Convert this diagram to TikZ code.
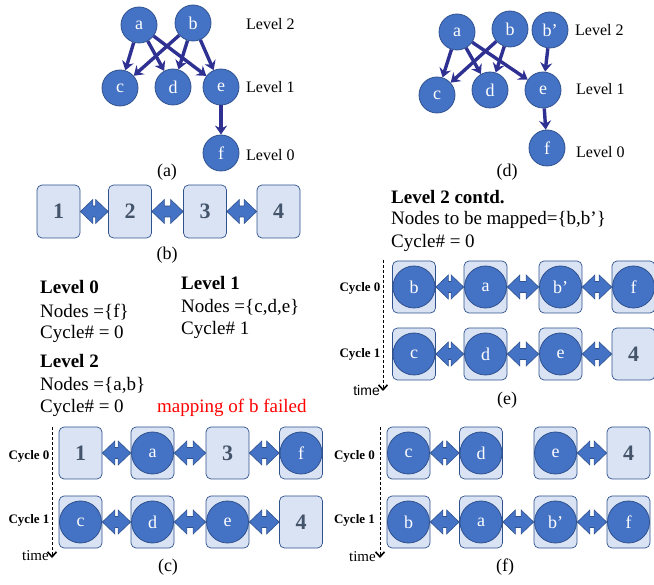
\documentclass[tikz,border=0pt]{standalone}
\usepackage{fontspec}
\setmainfont{Liberation Serif}
\newfontfamily\timesans{Liberation Sans}
\usetikzlibrary{arrows.meta,calc}

\definecolor{nodeblue}{RGB}{68,114,196}
\definecolor{nodeedge}{RGB}{47,82,143}
\definecolor{cellfill}{RGB}{218,227,243}
\definecolor{edgeblue}{RGB}{46,49,146}
\definecolor{numgray}{RGB}{68,84,106}

\newcommand{\fsz}[1]{\fontsize{#1}{#1}\selectfont}

\tikzset{
  vtx/.style={circle, fill=nodeblue, draw=nodeedge, line width=0.8pt, minimum size=36pt, inner sep=0pt, text=white, font=\fsz{18}},
  bigvtx/.style={vtx, minimum size=42pt},
  cell/.style={rectangle, rounded corners=5pt, fill=cellfill, draw=nodeedge, line width=0.7pt, minimum width=43pt, minimum height=52pt, inner sep=0pt, text=numgray, font=\fsz{22}\bfseries},
  dep/.style={draw=edgeblue, line width=3.4pt, -{Stealth[length=9pt,width=12pt,inset=3pt]}},
  lvl/.style={anchor=west, inner sep=0pt, font=\fsz{16}},
  txt/.style={anchor=west, inner sep=0pt, font=\fsz{19}},
  subcap/.style={inner sep=0pt, font=\fsz{18}},
  cyc/.style={inner sep=0pt, font=\fsz{13}\bfseries},
  timeline/.style={densely dashed, line width=0.6pt, -{Straight Barb[length=5pt,width=9pt,line width=1.6pt]}},
  link/.style={fill=nodeblue, draw=nodeedge, line width=0.6pt}
}

% fat double arrow between two cells
\newcommand{\bilink}[2]{%
  \filldraw[link] let \p1=(#1.east), \p2=(#2.west) in
    (\x1,\y1) -- ({\x1+12.5pt},{\y1+12pt}) -- ({\x1+12.5pt},{\y1+5.5pt}) -- ({\x2-12.5pt},{\y1+5.5pt})
    -- ({\x2-12.5pt},{\y1+12pt}) -- (\x2,\y1) -- ({\x2-12.5pt},{\y1-12pt}) -- ({\x2-12.5pt},{\y1-5.5pt})
    -- ({\x1+12.5pt},{\y1-5.5pt}) -- ({\x1+12.5pt},{\y1-12pt}) -- cycle;}

\begin{document}
\begin{tikzpicture}[x=1pt,y=-1pt]
  \useasboundingbox (0,0) rectangle (654,585);

  % (a) dependency graph
  \node[vtx] (a-a) at (139,25) {a};
  \node[vtx] (a-b) at (193,23) {b};
  \node[vtx] (a-c) at (120,88) {c};
  \node[vtx] (a-d) at (173,87) {d};
  \node[vtx] (a-e) at (221,87) {e};
  \node[vtx] (a-f) at (221,153) {f};
  \draw[dep] (a-a) -- (a-c);
  \draw[dep] (a-a) -- (a-d);
  \draw[dep] (a-a) -- (a-e);
  \draw[dep] (a-b) -- (a-c);
  \draw[dep] (a-b) -- (a-d);
  \draw[dep] (a-b) -- (a-e);
  \draw[dep] (a-e) -- (a-f);
  \node[lvl] (a-l2) at (246,24) {Level 2};
  \node[lvl] (a-l1) at (246,87) {Level 1};
  \node[lvl] (a-l0) at (246,155) {Level 0};
  \node[subcap] (cap-a) at (167,172) {(a)};

  % (d) graph with b'
  \node[vtx] (d-a) at (457,32) {a};
  \node[vtx] (d-b) at (510,29) {b};
  \node[vtx] (d-bp) at (550,30) {b’};
  \node[vtx] (d-c) at (437,95) {c};
  \node[vtx] (d-d) at (490,90) {d};
  \node[vtx] (d-e) at (543,90) {e};
  \node[vtx] (d-f) at (547,148) {f};
  \draw[dep] (d-a) -- (d-c);
  \draw[dep] (d-a) -- (d-d);
  \draw[dep] (d-a) -- (d-e);
  \draw[dep] (d-b) -- (d-c);
  \draw[dep] (d-b) -- (d-d);
  \draw[dep] (d-bp) -- (d-e);
  \draw[dep] (d-e) -- (d-f);
  \node[lvl] (d-l2) at (575,30) {Level 2};
  \node[lvl] (d-l1) at (576,89) {Level 1};
  \node[lvl] (d-l0) at (576,152) {Level 0};
  \node[subcap] (cap-d) at (507,172) {(d)};

  % (b) the array
  \node[cell, minimum height=53pt] (b-1) at (58.5,211.5) {1};
  \node[cell, minimum height=53pt] (b-2) at (130,211.5) {2};
  \node[cell, minimum height=53pt] (b-3) at (205,211.5) {3};
  \node[cell, minimum height=53pt] (b-4) at (278.5,211.5) {4};
  \bilink{b-1}{b-2}
  \bilink{b-2}{b-3}
  \bilink{b-3}{b-4}
  \node[subcap] (cap-b) at (167,255) {(b)};

  % level notes
  \node[txt, font=\fsz{19}\bfseries] (t-l0) at (40,287) {Level 0};
  \node[txt] (t-n0) at (40,312) {Nodes =\{f\}};
  \node[txt] (t-c0) at (40,334) {Cycle\# = 0};
  \node[txt, font=\fsz{19}\bfseries] (t-l2) at (40,361) {Level 2};
  \node[txt] (t-n2) at (40,385) {Nodes =\{a,b\}};
  \node[txt] (t-c2) at (40,408) {Cycle\# = 0};
  \node[txt, text=red] (t-fail) at (157,408) {mapping of b failed};
  \node[txt, font=\fsz{19}\bfseries] (t-l1) at (181,283) {Level 1};
  \node[txt] (t-n1) at (181,307) {Nodes =\{c,d,e\}};
  \node[txt] (t-c1) at (181,330) {Cycle\# 1};
  \node[txt, font=\fsz{19}\bfseries] (t-l2c) at (391,197) {Level 2 contd.};
  \node[txt] (t-n2c) at (391,220) {Nodes to be mapped=\{b,b’\}};
  \node[txt] (t-c2c) at (391,243) {Cycle\# = 0};

  % (c) mapping, b failed
  \node[cyc] (c-cy0) at (29,456) {Cycle 0};
  \node[cyc] (c-cy1) at (29,520) {Cycle 1};
  \coordinate (c-top) at (52,427);
  \coordinate (c-end) at (52,558);
  \draw[timeline] (c-top) -- (c-end);
  \node[anchor=east, inner sep=0pt, font=\fsz{15}] (c-time) at (49,556) {time};
  \node[cell] (c-1) at (80.5,453) {1};
  \node[cell] (c-a) at (152.5,453) {};
  \node[bigvtx] (c-a-v) at (c-a) {a};
  \node[cell] (c-3) at (227.5,453) {3};
  \node[cell] (c-f) at (301,453) {};
  \node[bigvtx] (c-f-v) at (c-f) {f};
  \node[cell] (c-c) at (80.5,522) {};
  \node[bigvtx] (c-c-v) at (c-c) {c};
  \node[cell] (c-d) at (152.5,522) {};
  \node[bigvtx] (c-d-v) at (c-d) {d};
  \node[cell] (c-e) at (227.5,522) {};
  \node[bigvtx] (c-e-v) at (c-e) {e};
  \node[cell] (c-4) at (301,522) {4};
  \bilink{c-1}{c-a}
  \bilink{c-a}{c-3}
  \bilink{c-3}{c-f}
  \bilink{c-c}{c-d}
  \bilink{c-d}{c-e}
  \bilink{c-e}{c-4}
  \node[subcap] (cap-c) at (168,567) {(c)};

  % (e) mapping with b'
  \node[cyc] (e-cy0) at (360,288) {Cycle 0};
  \node[cyc] (e-cy1) at (360,354) {Cycle 1};
  \coordinate (e-top) at (383,260);
  \coordinate (e-end) at (383,391);
  \draw[timeline] (e-top) -- (e-end);
  \node[anchor=east, inner sep=0pt, font=\timesans\fsz{14}] (e-time) at (380,390) {time};
  \node[cell] (e-b) at (414,287) {};
  \node[bigvtx] (e-b-v) at (e-b) {b};
  \node[cell] (e-a) at (485.5,287) {};
  \node[bigvtx] (e-a-v) at (e-a) {a};
  \node[cell] (e-bp) at (560.5,287) {};
  \node[bigvtx] (e-bp-v) at (e-bp) {b’};
  \node[cell] (e-f) at (633.5,287) {};
  \node[bigvtx] (e-f-v) at (e-f) {f};
  \node[cell] (e-c) at (414,354) {};
  \node[bigvtx] (e-c-v) at (e-c) {c};
  \node[cell] (e-d) at (485.5,354) {};
  \node[bigvtx] (e-d-v) at (e-d) {d};
  \node[cell] (e-e) at (560.5,354) {};
  \node[bigvtx] (e-e-v) at (e-e) {e};
  \node[cell] (e-4) at (633.5,354) {4};
  \bilink{e-b}{e-a}
  \bilink{e-a}{e-bp}
  \bilink{e-bp}{e-f}
  \bilink{e-c}{e-d}
  \bilink{e-d}{e-e}
  \bilink{e-e}{e-4}
  \node[subcap] (cap-e) at (507,400) {(e)};

  % (f) final mapping
  \node[cyc] (f-cy0) at (354.5,456) {Cycle 0};
  \node[cyc] (f-cy1) at (354.5,520) {Cycle 1};
  \coordinate (f-top) at (380,427);
  \coordinate (f-end) at (380,558);
  \draw[timeline] (f-top) -- (f-end);
  \node[anchor=east, inner sep=0pt, font=\fsz{15}] (f-time) at (376,557) {time};
  \node[cell] (f-c) at (408.5,453) {};
  \node[bigvtx] (f-c-v) at (f-c) {c};
  \node[cell] (f-d) at (481,453) {};
  \node[bigvtx] (f-d-v) at (f-d) {d};
  \node[cell] (f-e) at (555.5,453) {};
  \node[bigvtx] (f-e-v) at (f-e) {e};
  \node[cell] (f-4) at (628.5,453) {4};
  \node[cell] (f-b) at (408.5,522) {};
  \node[bigvtx] (f-b-v) at (f-b) {b};
  \node[cell] (f-a) at (481,522) {};
  \node[bigvtx] (f-a-v) at (f-a) {a};
  \node[cell] (f-bp) at (555.5,522) {};
  \node[bigvtx] (f-bp-v) at (f-bp) {b’};
  \node[cell] (f-f) at (628.5,522) {};
  \node[bigvtx] (f-f-v) at (f-f) {f};
  \bilink{f-c}{f-d}
  \bilink{f-e}{f-4}
  \bilink{f-b}{f-a}
  \bilink{f-a}{f-bp}
  \bilink{f-bp}{f-f}
  \node[subcap] (cap-f) at (505,567) {(f)};
\end{tikzpicture}
\end{document}
